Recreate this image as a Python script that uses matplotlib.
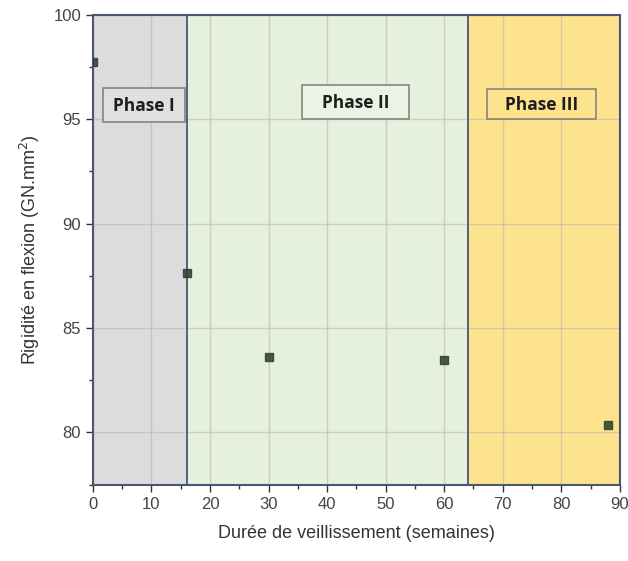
import matplotlib.pyplot as plt
import numpy as np
from matplotlib.ticker import MultipleLocator
from matplotlib.patches import Rectangle

# donnees
semaines = [0, 16, 30, 60, 88]
rigidite = [97.75, 87.65, 83.6, 83.45, 80.35]

phases = ['Phase I', 'Phase II', 'Phase III']
limites = [0, 16, 64, 90]
couleurs = ['#dcdcdc', '#e5f0dd', '#fde38e']
fond_boites = ['#e0e0e0', '#ebf3e5', '#fde38e']
# boites des etiquettes: (x0, x1, y0, y1)
boites = [(1.7, 15.7, 94.88, 96.5), (35.7, 53.95, 94.98, 96.65), (67.3, 85.9, 94.98, 96.46)]

fig = plt.figure(figsize=(6.28, 5.61), dpi=100)
ax = fig.add_axes([0.148, 0.136, 0.839, 0.838])

#Zones colorees des phases
for i in range(0, len(phases)):
    ax.axvspan(limites[i], limites[i + 1], color=couleurs[i], zorder=0)
    ax.axvline(limites[i + 1], color='#4a5672', lw=1.3, zorder=1)
    x0, x1, y0, y1 = boites[i]
    ax.add_patch(Rectangle((x0, y0), x1 - x0, y1 - y0, fc=fond_boites[i], ec='#7c7c7c', lw=1.1, zorder=3))
    ax.text((x0 + x1) / 2, (y0 + y1) / 2 - 0.05, phases[i], ha='center', va='center',
            fontsize=12.5, fontweight='bold', family='Open Sans', color='#1e1e1e', zorder=4)

ax.plot(semaines, rigidite, 's', color='#2e3b2e', alpha=0.85, markersize=6, zorder=5)

ax.set_xlim(0, 90)
ax.set_ylim(77.5, 100)
ax.xaxis.set_major_locator(MultipleLocator(10))
ax.xaxis.set_minor_locator(MultipleLocator(5))
ax.yaxis.set_major_locator(MultipleLocator(5))
ax.yaxis.set_minor_locator(MultipleLocator(2.5))
ax.grid(True, which='major', color='#b0b0b0', alpha=0.5, lw=1, zorder=0.5)
ax.set_axisbelow(True)

for s in ax.spines.values():
    s.set_color('#4a5672')
    s.set_linewidth(1.5)
ax.tick_params(which='major', length=5, width=1, labelsize=12, colors='#333333', labelcolor='#444444')
ax.tick_params(which='minor', length=3, width=1, colors='#333333')

ax.set_xlabel('Durée de veillissement (semaines)', fontsize=13, family='Liberation Sans', color='#333333', labelpad=10)
ax.set_ylabel('Rigidité en flexion (GN.mm$^2$)', fontsize=13, family='Liberation Sans', color='#333333', labelpad=8)
for lab in ax.get_xticklabels() + ax.get_yticklabels():
    lab.set_family('Liberation Sans')

fig.savefig('out.png', dpi=100)
